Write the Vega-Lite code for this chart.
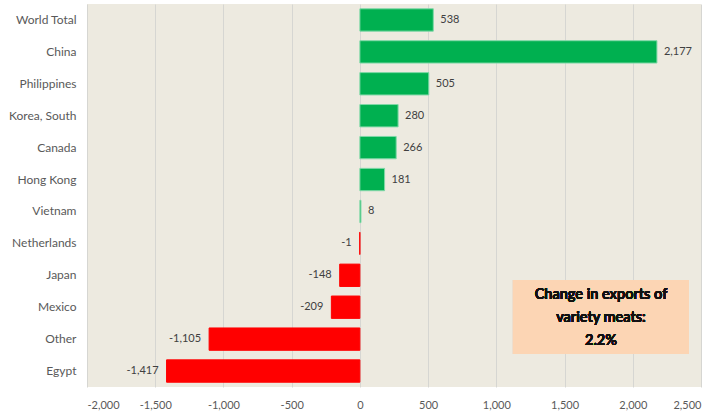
{
  "$schema": "https://vega.github.io/schema/vega-lite/v6.json",
  "width": 614,
  "height": 383,
  "autosize": {"type": "none"},
  "padding": {"left": 87, "top": 4, "right": 24, "bottom": 28},
  "background": "white",
  "config": {
    "view": {"fill": "#EDEAE0", "stroke": null},
    "font": "Lato",
    "axis": {"labelFont": "Lato", "labelColor": "#595959", "labelFontSize": 12}
  },
  "data": {
    "values": [
      {"country": "World Total", "value": 538},
      {"country": "China", "value": 2177},
      {"country": "Philippines", "value": 505},
      {"country": "Korea, South", "value": 280},
      {"country": "Canada", "value": 266},
      {"country": "Hong Kong", "value": 181},
      {"country": "Vietnam", "value": 8},
      {"country": "Netherlands", "value": -1},
      {"country": "Japan", "value": -148},
      {"country": "Mexico", "value": -209},
      {"country": "Other", "value": -1105},
      {"country": "Egypt", "value": -1417}
    ]
  },
  "transform": [
    {"calculate": "replace(format(datum.value, ','), '\u2212', '-')", "as": "label"}
  ],
  "layer": [
    {
      "layer": [
        {
          "mark": {"type": "bar", "strokeWidth": 1},
          "encoding": {
            "y": {"field": "country", "type": "nominal",
                  "sort": ["World Total", "China", "Philippines", "Korea, South", "Canada", "Hong Kong", "Vietnam", "Netherlands", "Japan", "Mexico", "Other", "Egypt"],
                  "scale": {"paddingInner": 0.3, "paddingOuter": 0.15},
                  "axis": {"title": null, "ticks": false, "domain": false, "labelPadding": 11, "grid": false}},
            "x": {"field": "value", "type": "quantitative",
                  "scale": {"domain": [-2000, 2500], "nice": false, "zero": false},
                  "axis": {"title": null, "values": [-2000, -1500, -1000, -500, 0, 500, 1000, 1500, 2000, 2500],
                           "labelExpr": "replace(format(datum.value, ','), '\u2212', '-')",
                           "ticks": false, "domain": false, "grid": true, "gridColor": "#D6D6D2",
                           "labelPadding": 12, "labelFontSize": 11}},
            "color": {"condition": {"test": "datum.value < 0", "value": "#FF0000"}, "value": "#00B050"},
            "stroke": {"condition": {"test": "datum.value < 0", "value": "#FF0000"}, "value": "#7FD8A7"}
          }
        },
        {
          "transform": [{"filter": "datum.value >= 0"}],
          "mark": {"type": "text", "align": "left", "dx": 7, "fontSize": 11, "fill": "#404040", "baseline": "middle"},
          "encoding": {
            "y": {"field": "country", "type": "nominal",
                  "sort": ["World Total", "China", "Philippines", "Korea, South", "Canada", "Hong Kong", "Vietnam", "Netherlands", "Japan", "Mexico", "Other", "Egypt"]},
            "x": {"field": "value", "type": "quantitative"},
            "text": {"field": "label", "type": "nominal"}
          }
        },
        {
          "transform": [{"filter": "datum.value < 0"}],
          "mark": {"type": "text", "align": "right", "dx": -8, "fontSize": 11, "fill": "#404040", "baseline": "middle"},
          "encoding": {
            "y": {"field": "country", "type": "nominal",
                  "sort": ["World Total", "China", "Philippines", "Korea, South", "Canada", "Hong Kong", "Vietnam", "Netherlands", "Japan", "Mexico", "Other", "Egypt"]},
            "x": {"field": "value", "type": "quantitative"},
            "text": {"field": "label", "type": "nominal"}
          }
        }
      ]
    },
    {
      "layer": [
        {
          "mark": {"type": "rect", "fill": "#FCD5B4", "stroke": null},
          "encoding": {
            "x": {"datum": 1122, "type": "quantitative"},
            "x2": {"datum": 2412},
            "y": {"datum": 3.353, "type": "quantitative", "scale": {"domain": [0, 12], "nice": false, "zero": true}, "axis": null},
            "y2": {"datum": 1.035}
          }
        },
        {
          "mark": {"type": "text", "font": "Lato", "fontWeight": 600, "fontSize": 14.5, "fill": "#111111", "align": "center", "baseline": "middle", "lineHeight": 23,
                   "text": ["Change in exports of", "variety meats:", "2.2%"]},
          "encoding": {
            "x": {"datum": 1767, "type": "quantitative"},
            "y": {"datum": 2.883, "type": "quantitative"}
          }
        }
      ]
    }
  ],
  "resolve": {"scale": {"y": "independent"}}
}
